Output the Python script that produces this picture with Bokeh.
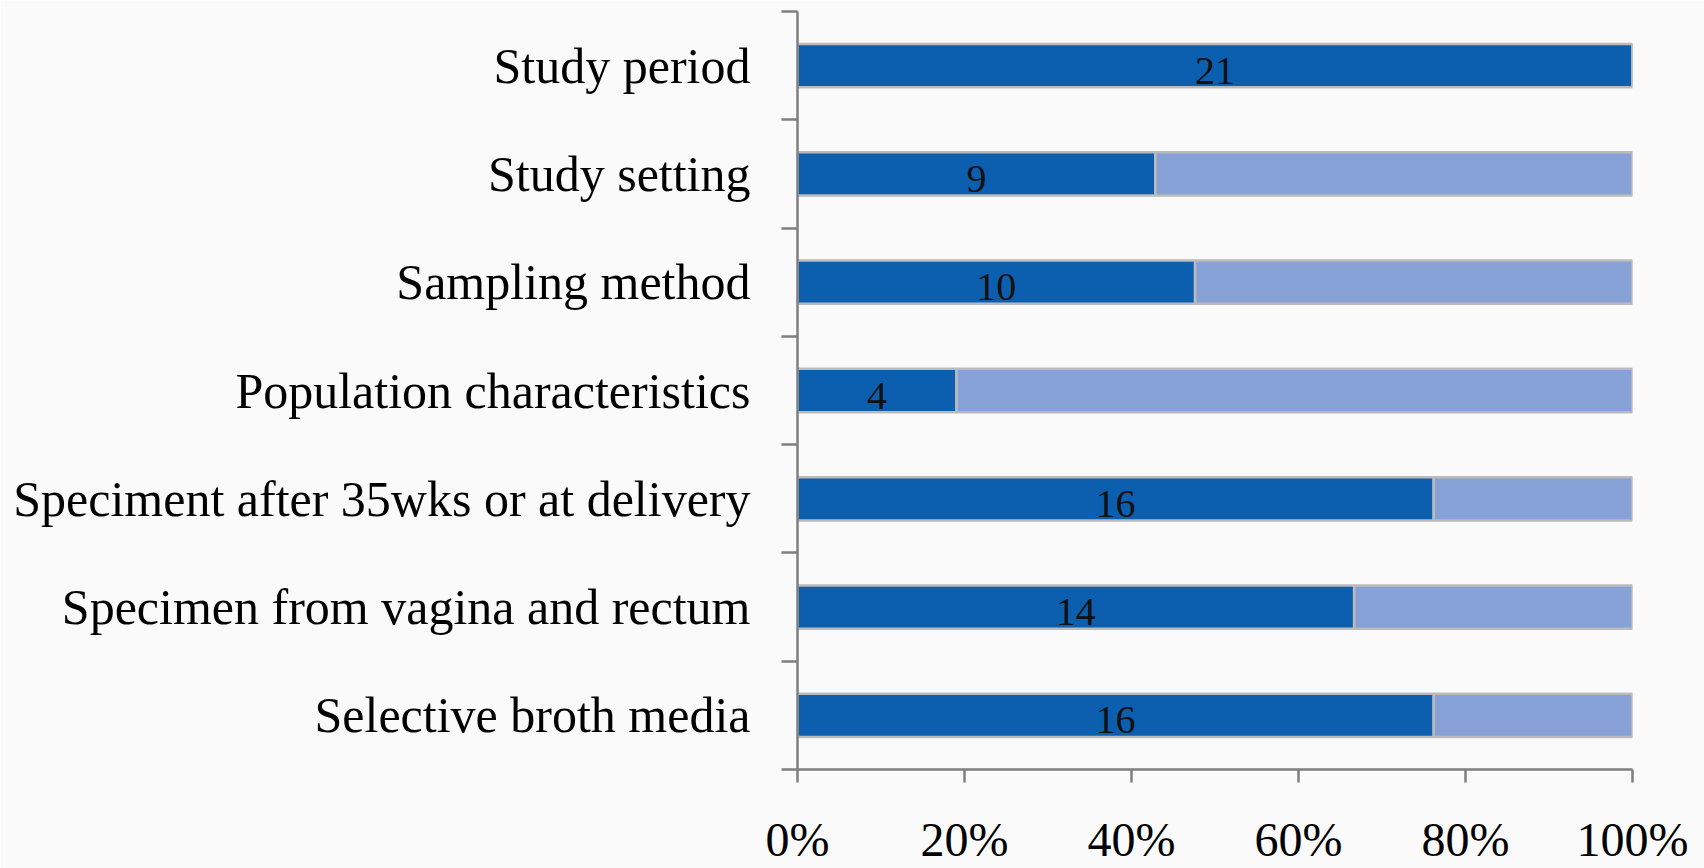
from bokeh.plotting import figure
from bokeh.models import ColumnDataSource, Range1d, FixedTicker, NumeralTickFormatter
from bokeh.core.properties import value
from bokeh.embed import file_html
from bokeh.resources import INLINE

# Quality criteria, listed top to bottom
criteria = [
    "Study period",
    "Study setting",
    "Sampling method",
    "Population characteristics",
    "Speciment after 35wks or at delivery",
    "Specimen from vagina and rectum",
    "Selective broth media",
]

# Number of studies meeting each criterion, out of all included studies
met = [21, 9, 10, 4, 16, 14, 16]
total_studies = 21
not_met = [total_studies - m for m in met]

x_ticks = [0, 0.2, 0.4, 0.6, 0.8, 1.0]

DARK = "#0C5FAE"
LIGHT = "#86A1D6"
EDGE = "#BBBBBB"
AXIS = "#7F7F7F"
BG = "#FAFAFA"
FONT = "Liberation Serif"

n = len(criteria)
centers = [n - i - 0.5 for i in range(n)]
source = ColumnDataSource(dict(
    y=centers,
    met=[m / total_studies for m in met],
    not_met=[m / total_studies for m in not_met],
    label_x=[m / total_studies / 2 for m in met],
    label=[str(m) for m in met],
))

p = figure(
    width=1704, height=868,
    x_range=Range1d(0, 1), y_range=Range1d(0, n),
    output_backend="svg", toolbar_location=None,
    min_border_left=797, min_border_right=72,
    min_border_top=11, min_border_bottom=99,
    background_fill_color=BG, border_fill_color=BG,
    outline_line_color=None,
)
p.grid.visible = False

p.hbar_stack(["met", "not_met"], y="y", height=0.4, color=[DARK, LIGHT],
             line_color=EDGE, line_width=2.5, source=source)

p.text(x="label_x", y="y", text="label", source=source,
       text_font=value(FONT), text_font_size="40px", text_color="#111111",
       text_align="center", text_baseline="middle", y_offset=5)

# Category axis: labels at bar centres, tick marks on the boundaries
yax = p.yaxis[0]
yax.ticker = FixedTicker(ticks=centers, minor_ticks=list(range(n + 1)))
yax.major_label_overrides = {c: lab for c, lab in zip(centers, criteria)}
yax.major_tick_out = 0
yax.major_tick_in = 0
yax.minor_tick_out = 16
yax.minor_tick_in = 0
yax.minor_tick_line_color = AXIS
yax.minor_tick_line_width = 2.5
yax.axis_line_color = AXIS
yax.axis_line_width = 2.5
yax.major_label_standoff = 31
yax.major_label_text_font = FONT
yax.major_label_text_font_size = "50px"
yax.major_label_text_color = "#000000"

xax = p.xaxis[0]
xax.ticker = FixedTicker(ticks=x_ticks)
xax.formatter = NumeralTickFormatter(format="0%")
xax.major_tick_out = 13
xax.major_tick_in = 0
xax.minor_tick_out = 0
xax.minor_tick_in = 0
xax.major_tick_line_color = AXIS
xax.major_tick_line_width = 2.5
xax.axis_line_color = AXIS
xax.axis_line_width = 2.5
xax.major_label_standoff = 30
xax.major_label_text_font = FONT
xax.major_label_text_font_size = "48px"
xax.major_label_text_color = "#000000"

open("out.html", "w").write(file_html(p, INLINE))
